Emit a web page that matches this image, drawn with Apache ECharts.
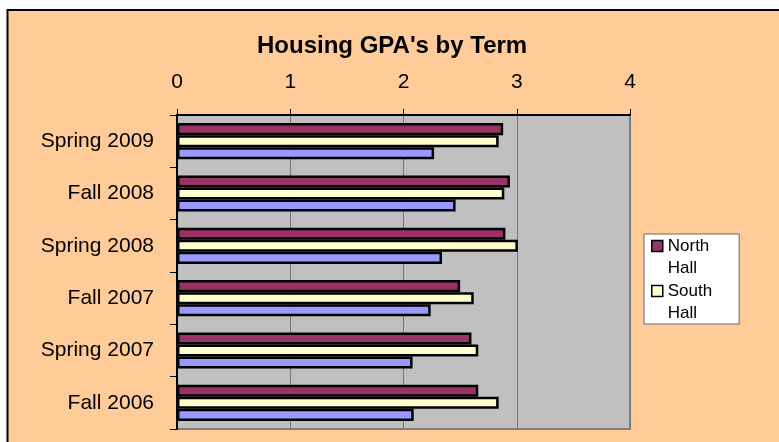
<!DOCTYPE html>
<html>
<head>
<meta charset="utf-8">
<script src="https://cdn.jsdelivr.net/npm/echarts@6/dist/echarts.min.js"></script>
<style>
  html, body { margin: 0; padding: 0; background: #fff; }
  #chart { width: 779px; height: 442px; }
</style>
</head>
<body>
<div id="chart"></div>
<script>
// terms, bottom to top as they appear on the axis
const terms = ['Fall 2006', 'Spring 2007', 'Fall 2007', 'Spring 2008', 'Fall 2008', 'Spring 2009'];
const northHall = [2.66, 2.60, 2.50, 2.90, 2.94, 2.88];
const southHall = [2.84, 2.66, 2.62, 3.01, 2.89, 2.84];
const thirdHall = [2.09, 2.08, 2.24, 2.34, 2.46, 2.27];
const gpaTicks = [0, 1, 2, 3, 4];

const chart = echarts.init(document.getElementById('chart'));

const font = 'Liberation Sans, Arial, sans-serif';

function barSeries(name, data, color) {
  return {
    name: name,
    type: 'bar',
    data: data,
    barGap: '0%',
    barCategoryGap: '31%',
    itemStyle: { color: color, borderColor: '#000', borderWidth: 2.5 },
  };
}

chart.setOption({
  backgroundColor: '#fff',
  animation: false,
  graphic: [
    {
      type: 'rect',
      z: -10,
      shape: { x: 7.5, y: 10, width: 800, height: 500 },
      style: { fill: '#FFCC99', stroke: '#000', lineWidth: 2 },
    },
  ],
  title: {
    text: "Housing GPA's by Term",
    left: 257,
    top: 34,
    padding: 0,
    textStyle: { fontFamily: font, fontSize: 24, fontWeight: 'bold', color: '#000' },
  },
  legend: {
    data: ['North Hall', 'South Hall'],
    orient: 'vertical',
    left: 644,
    top: 234,
    padding: [1, 27, 0, 7],
    itemWidth: 11,
    itemHeight: 33,
    itemGap: 1,
    icon: 'path://M0,0H11V11H0Z M0,33',
    backgroundColor: '#fff',
    borderColor: '#666',
    borderWidth: 1,
    borderRadius: 0,
    itemStyle: { borderColor: '#000', borderWidth: 1.5 },
    formatter: (name) => name.replace(' ', '\n'),
    textStyle: { fontFamily: font, fontSize: 17, lineHeight: 22, color: '#000' },
  },
  grid: {
    left: 177,
    top: 115,
    right: 149,
    bottom: 13,
    show: true,
    backgroundColor: '#C0C0C0',
    borderColor: '#808080',
    borderWidth: 2,
  },
  xAxis: {
    type: 'value',
    position: 'top',
    min: gpaTicks[0],
    max: gpaTicks[gpaTicks.length - 1],
    interval: 1,
    axisLine: { show: true, lineStyle: { color: '#000', width: 2 } },
    axisTick: { show: true, inside: false, length: 6, lineStyle: { color: '#000' } },
    axisLabel: { margin: 22, fontFamily: font, fontSize: 21, color: '#000' },
    splitLine: { show: true, lineStyle: { color: '#777', width: 1 } },
  },
  yAxis: {
    type: 'category',
    data: terms,
    axisLine: { show: true, lineStyle: { color: '#000', width: 2 } },
    axisTick: { show: true, inside: false, length: 7, lineStyle: { color: '#000' } },
    axisLabel: { margin: 23, fontFamily: font, fontSize: 21, color: '#000' },
  },
  series: [
    barSeries('North Hall', northHall, '#993366'),
    barSeries('South Hall', southHall, '#FFFFCC'),
    barSeries('Series 3', thirdHall, '#9999FF'),
  ],
});
</script>
</body>
</html>
